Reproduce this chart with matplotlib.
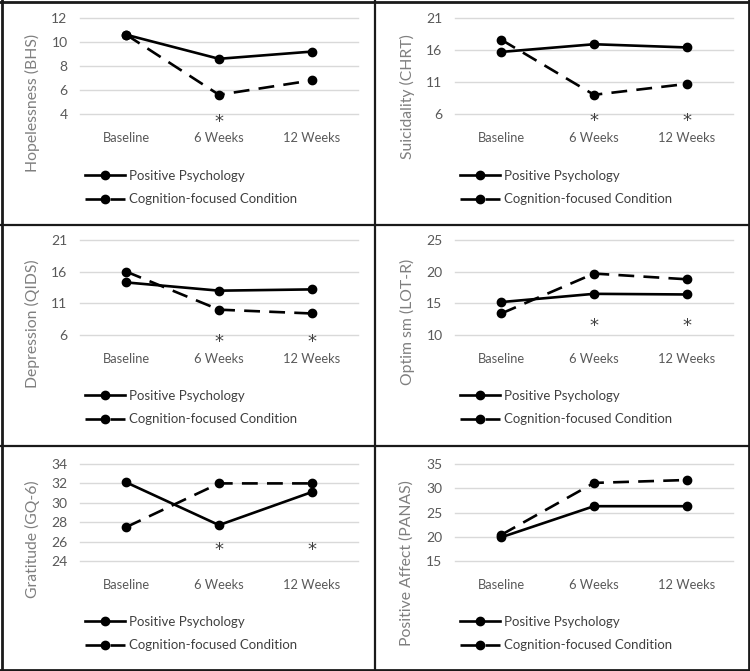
import matplotlib
matplotlib.use('Agg')
import matplotlib.pyplot as plt
from matplotlib.lines import Line2D

plt.rcParams['font.family'] = ['Lato', 'DejaVu Sans']

# data
times = ['Baseline', '6 Weeks', '12 Weeks']
series_names = ['Positive Psychology', 'Cognition-focused Condition']

ylabels = ['Hopelessness (BHS)', 'Suicidality (CHRT)', 'Depression (QIDS)',
           'Optim sm (LOT-R)', 'Gratitude (GQ-6)', 'Positive Affect (PANAS)']
yticks = [[4, 6, 8, 10, 12], [6, 11, 16, 21], [6, 11, 16, 21],
          [10, 15, 20, 25], [24, 26, 28, 30, 32, 34], [15, 20, 25, 30, 35]]

pos_psych = [[10.6, 8.6, 9.2], [15.7, 16.9, 16.4], [14.3, 13.0, 13.2],
             [15.2, 16.5, 16.4], [32.1, 27.7, 31.1], [19.9, 26.3, 26.3]]
cog_focus = [[10.6, 5.6, 6.8], [17.6, 9.0, 10.7], [16.0, 10.0, 9.4],
             [13.4, 19.7, 18.8], [27.5, 32.0, 32.0], [20.4, 31.1, 31.7]]

# significance stars: which time points, and at what height
star_x = [[1], [1, 2], [1, 2], [1, 2], [1, 2], []]
star_y = [3.3, 4.9, 4.9, 11.4, 25.1, None]

W, H = 750, 671
fig = plt.figure(figsize=(W / 100, H / 100), dpi=100)


def fx(x):
    return x / W


def fy(y):
    return 1 - y / H


col_x = [0, 375]
row_y = [0, 225, 446]
plot_top = [18, 240, 464]
plot_bot = [114, 335, 561]
leg_y = [178, 398, 624]

txt = '#404040'

for i in range(6):
    r, c = i // 2, i % 2
    x0, y0 = col_x[c], row_y[r]
    ax = fig.add_axes([fx(x0 + 80), fy(plot_bot[r]), 278 / W,
                       (plot_bot[r] - plot_top[r]) / H])
    xs = range(len(times))
    ax.plot(xs, pos_psych[i], color='black', lw=1.9, marker='o', ms=6,
            label=series_names[0], clip_on=False, zorder=3)
    ax.plot(xs, cog_focus[i], color='black', lw=1.9, marker='o', ms=6,
            dashes=(6, 3.5), label=series_names[1], clip_on=False, zorder=3)

    ax.set_xlim(-0.5, 2.5)
    ax.set_ylim(yticks[i][0], yticks[i][-1])
    ax.set_yticks(yticks[i])
    ax.set_xticks(list(xs), times)
    ax.yaxis.grid(True, color='#d9d9d9', lw=1)
    for gl in ax.get_ygridlines():
        gl.set_clip_on(False)
    ax.set_axisbelow(True)
    for s in ax.spines.values():
        s.set_visible(False)
    ax.tick_params(axis='y', length=0, pad=9, labelsize=10, labelcolor='#595959')
    ax.tick_params(axis='x', length=0, pad=13, labelsize=9.3, labelcolor='#595959')

    for sx in star_x[i]:
        ax.text(sx, star_y[i], '*', ha='center', va='center', fontsize=13,
                family='DejaVu Sans', color=txt, clip_on=False)

    fig.text(fx(x0 + 32), fy(y0 + 34), ylabels[i], rotation=90, va='top',
             ha='center', color='#7f7f7f', fontsize=11.3)

    ax.legend(loc='upper left', bbox_to_anchor=(fx(x0 + 85), fy(leg_y[r] - 8)),
              bbox_transform=fig.transFigure, frameon=False, handlelength=3,
              handletextpad=0.3, labelspacing=0.85, borderpad=0,
              borderaxespad=0, fontsize=9.5, labelcolor=txt)

# panel borders
bc = '#1a1a1a'
fig.add_artist(Line2D([fx(375), fx(375)], [0, 1], transform=fig.transFigure, color=bc, lw=1.6))
for yy in [225, 446]:
    fig.add_artist(Line2D([0, 1], [fy(yy), fy(yy)], transform=fig.transFigure, color=bc, lw=1.6))
fig.add_artist(Line2D([fx(1.5), fx(1.5)], [0, 1], transform=fig.transFigure, color=bc, lw=2))
fig.add_artist(Line2D([fx(748.5), fx(748.5)], [0, 1], transform=fig.transFigure, color=bc, lw=2))
fig.add_artist(Line2D([0, 1], [fy(1.5), fy(1.5)], transform=fig.transFigure, color=bc, lw=2))
fig.add_artist(Line2D([0, 1], [fy(669.5), fy(669.5)], transform=fig.transFigure, color=bc, lw=2))

fig.savefig('out.png', dpi=100)
